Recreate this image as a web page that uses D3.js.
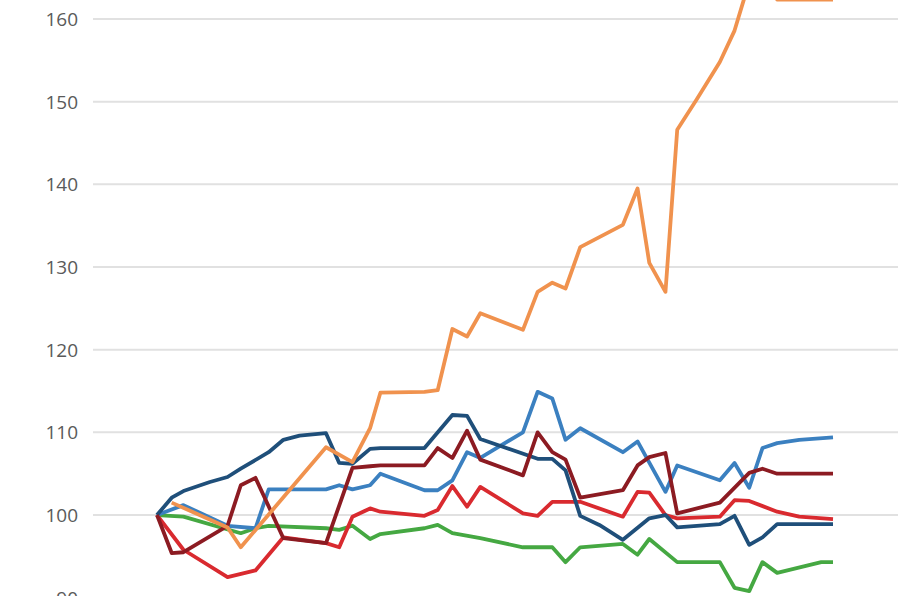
<!DOCTYPE html>
<html>
<head>
<meta charset="utf-8">
<script src="https://cdn.jsdelivr.net/npm/d3@7"></script>
<style>
  body { margin: 0; background: #fff; }
  .tick-label { font-family: "Open Sans", sans-serif; font-size: 19px; fill: #5a5a5a; }
</style>
</head>
<body>
<div id="chart"></div>
<script>
// y ticks shown on the left
var yTicks = [90, 100, 110, 120, 130, 140, 150, 160];

// each series: [week, index value]
var orange = [[1.0,101.5],[4.8,98.5],[5.7,96.1],[11.5,108.2],[13.3,106.4],[14.5,110.5],[15.2,114.8],[18.2,114.9],[19.1,115.1],[20.1,122.5],[21.1,121.6],[22.0,124.4],[24.9,122.4],[25.9,127.0],[26.9,128.1],[27.8,127.4],[28.8,132.4],[31.7,135.1],[32.7,139.5],[33.5,130.5],[34.6,127.0],[35.4,146.6],[36.7,150.2],[38.3,154.8],[39.3,158.6],[40.3,164.5],[41.2,165.5],[42.2,162.35],[43.7,162.35],[46.0,162.35]];
var lightBlue = [[0,100],[1.8,101.2],[4.8,98.7],[6.7,98.4],[7.6,103.1],[11.5,103.1],[12.4,103.6],[13.3,103.1],[14.5,103.6],[15.2,105.0],[18.2,103.0],[19.1,103.0],[20.1,104.2],[21.1,107.6],[22.0,106.9],[23.1,108.1],[24.9,110.0],[25.9,114.9],[26.9,114.1],[27.8,109.1],[28.8,110.5],[31.7,107.6],[32.7,108.9],[34.6,102.8],[35.4,106.0],[38.3,104.2],[39.3,106.3],[40.3,103.3],[41.2,108.1],[42.2,108.7],[43.7,109.1],[46.0,109.4]];
var navy = [[0,100],[1.0,102.1],[1.8,102.9],[3.6,104.0],[4.8,104.6],[5.7,105.6],[7.6,107.6],[8.6,109.1],[9.7,109.6],[11.5,109.9],[12.4,106.3],[13.3,106.2],[14.5,108.0],[15.2,108.1],[18.2,108.1],[20.1,112.1],[21.1,112.0],[22.0,109.2],[25.9,106.8],[26.9,106.8],[27.8,105.4],[28.8,99.9],[30.1,98.8],[31.7,97.0],[33.5,99.6],[34.6,100.0],[35.4,98.5],[38.3,98.9],[39.3,99.9],[40.3,96.4],[41.2,97.3],[42.2,98.9],[46.0,98.9]];
var maroon = [[0,100],[1.0,95.4],[1.8,95.5],[4.8,98.7],[5.7,103.6],[6.7,104.5],[8.6,97.2],[11.5,96.6],[13.3,105.7],[14.5,105.9],[15.2,106.0],[18.2,106.0],[19.1,108.1],[20.1,106.9],[21.1,110.2],[22.0,106.7],[24.9,104.8],[25.9,110.0],[26.9,107.6],[27.8,106.7],[28.8,102.1],[31.7,103.0],[32.7,106.0],[33.5,107.0],[34.6,107.5],[35.4,100.2],[38.3,101.5],[40.3,105.1],[41.2,105.6],[42.2,105.0],[46.0,105.0]];
var red = [[0,100],[1.8,95.8],[4.8,92.5],[6.7,93.3],[8.6,97.3],[11.5,96.6],[12.4,96.1],[13.3,99.8],[14.5,100.8],[15.2,100.4],[18.2,99.9],[19.1,100.6],[20.1,103.5],[21.1,101.0],[22.0,103.4],[24.9,100.2],[25.9,99.9],[26.9,101.6],[28.8,101.6],[31.7,99.8],[32.7,102.8],[33.5,102.7],[34.6,100.0],[35.4,99.6],[38.3,99.8],[39.3,101.8],[40.3,101.7],[42.2,100.4],[43.7,99.8],[46.0,99.5]];
var green = [[0,100],[1.8,99.8],[5.7,97.8],[6.7,98.4],[7.6,98.7],[11.5,98.4],[12.4,98.2],[13.3,98.7],[14.5,97.1],[15.2,97.7],[18.2,98.4],[19.1,98.8],[20.1,97.8],[22.0,97.2],[24.9,96.1],[26.9,96.1],[27.8,94.3],[28.8,96.1],[31.7,96.5],[32.7,95.2],[33.5,97.1],[35.4,94.3],[38.3,94.3],[39.3,91.2],[40.3,90.8],[41.2,94.3],[42.2,93.0],[45.2,94.3],[46.0,94.3]];

var width = 910, height = 596;

var svg = d3.select("#chart")
    .append("svg")
    .attr("width", width)
    .attr("height", height);

var x = d3.scaleLinear().domain([0, 46]).range([157, 833]);
var y = d3.scaleLinear().domain([90, 160]).range([597.7, 19]);

// gridlines
svg.selectAll(".grid")
    .data(yTicks)
    .enter()
    .append("line")
    .attr("x1", 93)
    .attr("x2", 898)
    .attr("y1", d => y(d))
    .attr("y2", d => y(d))
    .attr("stroke", "#e1e1e1")
    .attr("stroke-width", 2);

// labels
svg.selectAll(".tick-label")
    .data(yTicks)
    .enter()
    .append("text")
    .attr("class", "tick-label")
    .attr("x", 78)
    .attr("y", d => y(d))
    .attr("dy", "0.36em")
    .attr("text-anchor", "end")
    .text(d => d);

var line = d3.line()
    .x(d => x(d[0]))
    .y(d => y(d[1]));

var series = [
    { data: green, color: "#45a842" },
    { data: red, color: "#d92a2f" },
    { data: lightBlue, color: "#3b80c0" },
    { data: navy, color: "#1f4f7a" },
    { data: maroon, color: "#8c1b22" },
    { data: orange, color: "#f0924e" }
];

svg.selectAll(".series")
    .data(series)
    .enter()
    .append("path")
    .attr("d", d => line(d.data))
    .attr("fill", "none")
    .attr("stroke", d => d.color)
    .attr("stroke-width", 3.8)
    .attr("stroke-linejoin", "round");
</script>
</body>
</html>
